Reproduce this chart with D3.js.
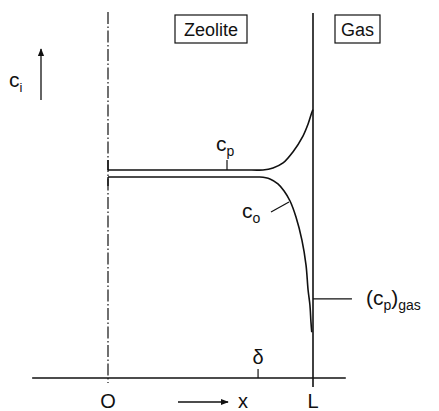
<!DOCTYPE html>
<html>
<head>
<meta charset="utf-8">
<script src="https://cdn.jsdelivr.net/npm/d3@7"></script>
<style>
  html, body { margin: 0; padding: 0; background: #fff; }
  svg { display: block; }
  text { font-family: "Liberation Sans", Arial, sans-serif; fill: #111; }
</style>
</head>
<body>
<svg id="chart" width="439" height="411"></svg>
<script>
// Concentration profiles across a zeolite crystal of thickness L (x/L, c relative to bulk c_p)
const cpX = [0, 0.70, 0.756, 0.805, 0.854, 0.902, 0.951, 0.976, 0.995, 1.0];
const cpC = [1.0, 1.0, 1.0, 1.010, 1.034, 1.087, 1.163, 1.221, 1.279, 1.29];
const coX = [0, 0.70, 0.741, 0.790, 0.829, 0.859, 0.888, 0.917, 0.946, 0.966, 0.976, 0.985, 0.990, 0.994];
const coC = [0.966, 0.966, 0.966, 0.957, 0.933, 0.899, 0.851, 0.774, 0.663, 0.543, 0.423, 0.351, 0.27, 0.22];
const cpGas = 0.38;
const delta = 0.732;
const xTicks = [{ v: 0, label: "O" }, { v: 1, label: "L" }];

const svg = d3.select("#chart");
const ink = "#111";

const x = d3.scaleLinear().domain([0, 1]).range([108, 313]);
const y = d3.scaleLinear().domain([0, 1]).range([378, 170]);

// markers for the arrows
svg.append("defs").append("marker")
  .attr("id", "head").attr("viewBox", "0 0 10 10")
  .attr("refX", 9).attr("refY", 5)
  .attr("markerWidth", 8).attr("markerHeight", 8)
  .attr("markerUnits", "userSpaceOnUse")
  .attr("orient", "auto")
  .append("path").attr("d", "M0,1 L10,5 L0,9 Z").attr("fill", ink);

// horizontal x axis
svg.append("line")
  .attr("x1", x(-0.37)).attr("x2", x(1.16))
  .attr("y1", y(0)).attr("y2", y(0))
  .attr("stroke", ink).attr("stroke-width", 1.3);

// crystal centre (dash-dot) and surface (solid)
svg.append("line")
  .attr("x1", x(0)).attr("x2", x(0))
  .attr("y1", 12).attr("y2", y(0) + 5)
  .attr("stroke", ink).attr("stroke-width", 1.2)
  .attr("stroke-dasharray", "12,2.5,1.5,2.5");
svg.append("line")
  .attr("x1", x(1)).attr("x2", x(1))
  .attr("y1", 13).attr("y2", y(0) + 9)
  .attr("stroke", ink).attr("stroke-width", 1.6);

// profiles
const line = d3.line().x(d => x(d[0])).y(d => y(d[1])).curve(d3.curveCatmullRom.alpha(0.5));
const cpData = cpX.map((v, i) => [v, cpC[i]]);
const coData = coX.map((v, i) => [v, coC[i]]);

svg.append("path").datum(cpData).attr("d", line)
  .attr("fill", "none").attr("stroke", ink).attr("stroke-width", 1.6);
svg.append("path").datum(coData).attr("d", line)
  .attr("fill", "none").attr("stroke", ink).attr("stroke-width", 1.6);
// short steps at the centre line
svg.append("line").attr("x1", x(0)).attr("x2", x(0))
  .attr("y1", y(cpC[0]) - 10).attr("y2", y(cpC[0]))
  .attr("stroke", ink).attr("stroke-width", 1.4);
svg.append("line").attr("x1", x(0)).attr("x2", x(0))
  .attr("y1", y(coC[0])).attr("y2", y(coC[0]) + 9)
  .attr("stroke", ink).attr("stroke-width", 1.4);

// gas-phase level
svg.append("line")
  .attr("x1", x(1)).attr("x2", x(1.19))
  .attr("y1", y(cpGas)).attr("y2", y(cpGas))
  .attr("stroke", ink).attr("stroke-width", 1.2);

// delta mark
svg.append("line")
  .attr("x1", x(delta)).attr("x2", x(delta))
  .attr("y1", y(0)).attr("y2", y(0) - 9)
  .attr("stroke", ink).attr("stroke-width", 1.2);
svg.append("text").attr("x", x(delta)).attr("y", y(0) - 14)
  .attr("text-anchor", "middle").attr("font-size", 20).text("δ");

// tick labels
svg.selectAll("text.tick").data(xTicks).enter().append("text")
  .attr("class", "tick")
  .attr("x", d => x(d.v)).attr("y", 408)
  .attr("text-anchor", "middle").attr("font-size", 20)
  .text(d => d.label);

// x direction arrow
svg.append("line")
  .attr("x1", 178).attr("x2", 228).attr("y1", 402).attr("y2", 402)
  .attr("stroke", ink).attr("stroke-width", 1.3).attr("marker-end", "url(#head)");
svg.append("text").attr("x", 243).attr("y", 408)
  .attr("text-anchor", "middle").attr("font-size", 20).text("x");

// c_i with upward arrow
svg.append("line")
  .attr("x1", 41).attr("x2", 41).attr("y1", 100).attr("y2", 49)
  .attr("stroke", ink).attr("stroke-width", 1.3).attr("marker-end", "url(#head)");
const ci = svg.append("text").attr("x", 9).attr("y", 87).attr("font-size", 21);
ci.append("tspan").text("c");
ci.append("tspan").attr("font-size", 13).attr("dy", 5).text("i");

// c_p label with leader
const cpl = svg.append("text").attr("x", 216).attr("y", 151).attr("font-size", 21);
cpl.append("tspan").text("c");
cpl.append("tspan").attr("font-size", 14).attr("dy", 5).text("p");
svg.append("line").attr("x1", 227).attr("x2", 227)
  .attr("y1", 160).attr("y2", y(1))
  .attr("stroke", ink).attr("stroke-width", 1.2);

// c_o label with leader
const col = svg.append("text").attr("x", 242).attr("y", 218).attr("font-size", 21);
col.append("tspan").text("c");
col.append("tspan").attr("font-size", 14).attr("dy", 5).text("o");
svg.append("line").attr("x1", 271).attr("y1", 212).attr("x2", 289).attr("y2", 202)
  .attr("stroke", ink).attr("stroke-width", 1.2);

// (c_p)_gas label
const gl = svg.append("text").attr("x", 366).attr("y", 305).attr("font-size", 21);
gl.append("tspan").text("(c");
gl.append("tspan").attr("font-size", 14).attr("dy", 5).text("p");
gl.append("tspan").attr("dy", -5).text(")");
gl.append("tspan").attr("font-size", 14).attr("dy", 5).text("gas");

// region boxes
function boxLabel(label, cx, x0, x1) {
  svg.append("rect").attr("x", x0).attr("y", 15).attr("width", x1 - x0).attr("height", 28)
    .attr("fill", "none").attr("stroke", ink).attr("stroke-width", 1.2);
  svg.append("text").attr("x", cx).attr("y", 36)
    .attr("text-anchor", "middle").attr("font-size", 18).text(label);
}
boxLabel("Zeolite", 211, 175, 247);
boxLabel("Gas", 357.5, 335, 380);
</script>
</body>
</html>
